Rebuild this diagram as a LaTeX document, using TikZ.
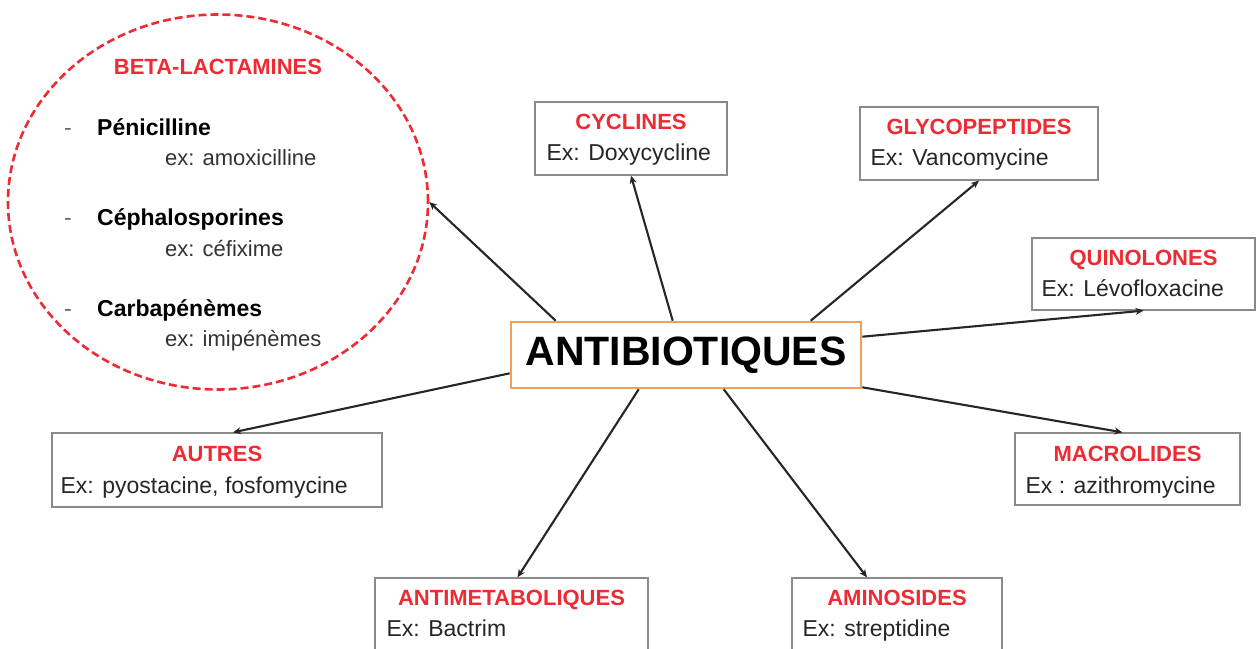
\documentclass[tikz,border=0pt]{standalone}
\usepackage{fontspec}
\setmainfont{Liberation Sans}
\usetikzlibrary{arrows.meta,shapes.geometric}
\definecolor{titred}{HTML}{EE2A33}
\definecolor{boxgrey}{HTML}{8A8A8A}
\definecolor{orng}{HTML}{F0A05A}
\tikzset{
  catbox/.style={draw=boxgrey,line width=1.3pt,rectangle,inner sep=0pt,minimum height=73pt},
  cattitle/.style={anchor=base,text=titred,font=\fontsize{22}{26}\selectfont\bfseries,inner sep=0pt},
  catex/.style={anchor=base west,font=\fontsize{23}{27}\selectfont,text=black!85,inner sep=0pt},
  conn/.style={line width=2.1pt,draw=black!85,-{Stealth[length=8pt,width=7pt]}},
  itemname/.style={anchor=base west,font=\fontsize{23}{27}\selectfont\bfseries,inner sep=0pt},
  itemdash/.style={anchor=base west,font=\fontsize{23}{27}\selectfont,text=black!60,inner sep=0pt},
  itemex/.style={anchor=base west,font=\fontsize{22}{26}\selectfont,text=black!80,inner sep=0pt},
}
\begin{document}
\begin{tikzpicture}[x=1pt,y=-1pt]
\useasboundingbox (0,0) rectangle (1257,648);
\clip (0,0) rectangle (1257,648);
\fill[white] (0,0) rectangle (1257,648);

% central node
\node[draw=orng,line width=2.6pt,minimum width=350pt,minimum height=66pt,inner sep=0pt,
      font=\fontsize{41}{46}\selectfont\bfseries] (abx) at (686,355) {ANTIBIOTIQUES};

% beta-lactamines ellipse
\node[ellipse,draw=titred,dashed,dash pattern=on 8pt off 4pt,line width=2.6pt,
      minimum width=420pt,minimum height=375pt,inner sep=0pt] (bl) at (218,202) {};
\node[cattitle] (blt) at (218,74) {BETA-LACTAMINES};
\node[itemdash] (d1) at (64,135) {-};
\node[itemname] (n1) at (97,135) {Pénicilline};
\node[itemex] (e1) at (165,165) {ex: amoxicilline};
\node[itemdash] (d2) at (64,225) {-};
\node[itemname] (n2) at (97,225) {Céphalosporines};
\node[itemex] (e2) at (165,256) {ex: céfixime};
\node[itemdash] (d3) at (64,316) {-};
\node[itemname] (n3) at (97,316) {Carbapénèmes};
\node[itemex] (e3) at (165,346) {ex: imipénèmes};

% category boxes
\node[catbox,minimum width=192pt] (cyc) at (631,138.5) {};
\node[cattitle] (cyct) at ([yshift=-28pt]cyc.north) {CYCLINES};
\node[catex] (cyce) at ([xshift=12pt,yshift=-59pt]cyc.north west) {Ex: Doxycycline};

\node[catbox,minimum width=238pt] (gly) at (979,143.5) {};
\node[cattitle] (glyt) at ([yshift=-28pt]gly.north) {GLYCOPEPTIDES};
\node[catex] (glye) at ([xshift=11pt,yshift=-59pt]gly.north west) {Ex: Vancomycine};

\node[catbox,minimum width=223pt,minimum height=72pt] (qui) at (1143.5,274) {};
\node[cattitle] (quit) at ([yshift=-28pt]qui.north) {QUINOLONES};
\node[catex] (quie) at ([xshift=10pt,yshift=-59pt]qui.north west) {Ex: Lévofloxacine};

\node[catbox,minimum width=225pt,minimum height=72pt] (mac) at (1127.5,469) {};
\node[cattitle] (mact) at ([yshift=-29pt]mac.north) {MACROLIDES};
\node[catex] (mace) at ([xshift=11pt,yshift=-61pt]mac.north west) {Ex : azithromycine};

\node[catbox,minimum width=210pt,minimum height=90pt] (ami) at (897,623) {};
\node[cattitle] (amit) at ([yshift=-28pt]ami.north) {AMINOSIDES};
\node[catex] (amie) at ([xshift=11pt,yshift=-59pt]ami.north west) {Ex: streptidine};

\node[catbox,minimum width=273pt,minimum height=90pt] (ant) at (511.5,623) {};
\node[cattitle] (antt) at ([yshift=-28pt]ant.north) {ANTIMETABOLIQUES};
\node[catex] (ante) at ([xshift=12pt,yshift=-59pt]ant.north west) {Ex: Bactrim};

\node[catbox,minimum width=330pt,minimum height=74pt] (aut) at (217,470) {};
\node[cattitle] (autt) at ([yshift=-29pt]aut.north) {AUTRES};
\node[catex] (aute) at ([xshift=9pt,yshift=-61pt]aut.north west) {Ex: pyostacine, fosfomycine};

% connectors
\draw[conn] ([xshift=46pt]abx.north west) -- (bl.east);
\draw[conn] ([xshift=163pt]abx.north west) -- (cyc.south);
\draw[conn] ([xshift=301pt]abx.north west) -- (gly.south);
\draw[conn] ([yshift=-16pt]abx.north east) -- (qui.south);
\draw[conn] ([yshift=2pt]abx.south east) -- ([xshift=-5pt]mac.north);
\draw[conn] ([xshift=214pt]abx.south west) -- ([xshift=-30pt]ami.north);
\draw[conn] ([xshift=129pt]abx.south west) -- ([xshift=6pt]ant.north);
\draw[conn] ([yshift=16pt]abx.south west) -- ([xshift=16pt]aut.north);
\end{tikzpicture}
\end{document}
